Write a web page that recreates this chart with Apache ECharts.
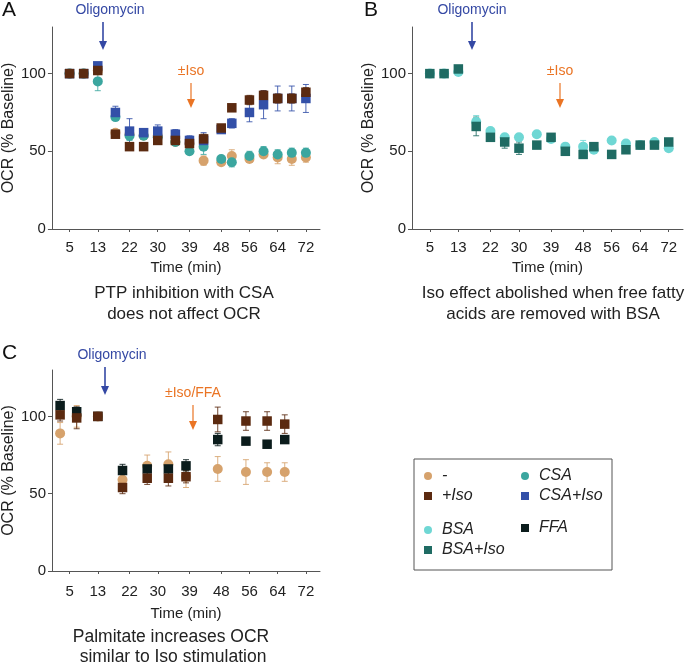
<!DOCTYPE html>
<html>
<head>
<meta charset="utf-8">
<script src="https://cdn.jsdelivr.net/npm/echarts@6/dist/echarts.min.js"></script>
<style>
html,body{margin:0;padding:0;background:#fff;}
#c{width:685px;height:663px;}
</style>
</head>
<body>
<div id="c"></div>
<script>
// ---- data ----
const timeTicks = [5, 13, 22, 30, 39, 48, 56, 64, 72];
const yTicks = [0, 50, 100];

const tAB = [5, 9, 13, 18, 22, 26, 30, 35, 39, 43, 48, 51, 56, 60, 64, 68, 72];
const A_ctrl     = [100,100,102,62,61,60,60,56,55,44,43,47,45,48,46,45,46];
const A_ctrl_e   = [1,1,1,2,2,2,2,2,2,3,2,4,2,2,4,4,3];
const A_iso      = [100,100,102,61,53,53,57,57,55,58,65,78,83,86,84,84,88];
const A_iso_e    = [1,1,2,2,1,1,1,2,2,3,2,2,3,3,3,3,3];
const A_csa      = [100,100,95,72,60,60,59,56,50,53,45,43,47,50,48,49,49];
const A_csa_e    = [1,1,6,2,3,2,2,2,1,5,2,3,3,3,3,3,3];
const A_csaiso   = [100,100,105,75,63,62,63,61,57,57,64,68,75,80,84,84,84];
const A_csaiso_e = [1,1,2,4,8,2,4,3,3,5,2,3,6,9,8,8,9];

const B_bsa      = [100,100,101,69,63,59,59,61,58,53,53,51,57,55,54,56,52];
const B_bsa_e    = [1,1,1,4,1,2,1,1,1,2,4,1,1,1,1,1,1];
const B_bsaiso   = [100,100,103,66,59,56,52,54,59,50,48,53,48,51,54,54,56];
const B_bsaiso_e = [1,1,1,6,1,4,4,1,1,1,1,1,2,1,1,1,1];

const tC = [2.3, 7, 13, 20, 27, 33, 38, 47, 55, 61, 66];
const C_ctrl   = [89,100,100,59,68,69,61,66,64,64,64];
const C_ctrl_e = [7,7,1,4,7,8,7,8,8,6,6];
const C_iso    = [101,99,100,54,60,60,61,98,97,97,95];
const C_iso_e  = [4,7,1,4,4,5,4,8,6,6,6];
const C_ffa    = [107,103,100,65,66,66,68,85,84,82,85];
const C_ffa_e  = [4,3,1,4,1,1,4,4,2,1,1];

// ---- styles ----
const COL = {
  ctrl: '#d6a26c', iso: '#5b2a10', csa: '#3ba69f', csaiso: '#3350a8',
  bsa: '#6fd7d4', bsaiso: '#1f6b63', ffa: '#0b1c1c'
};
const FONT = 'Liberation Sans, Arial, Helvetica, sans-serif';
const TXT = '#222';
const AX = '#555';

function pts(t, v) { return t.map((x, i) => [x, v[i]]); }
function errs(t, v, e) { return t.map((x, i) => [x, v[i] - e[i], v[i] + e[i]]); }

function errSeries(idx, t, v, e, color) {
  return {
    type: 'custom', xAxisIndex: idx, yAxisIndex: idx, silent: true, z: 1,
    data: errs(t, v, e),
    renderItem: function (params, api) {
      const x = api.value(0);
      const p1 = api.coord([x, api.value(2)]);
      const p2 = api.coord([x, api.value(1)]);
      const st = { stroke: color, lineWidth: 1, opacity: 0.85 };
      return {
        type: 'group', children: [
          { type: 'line', shape: { x1: p1[0], y1: p1[1], x2: p2[0], y2: p2[1] }, style: st },
          { type: 'line', shape: { x1: p1[0] - 3, y1: p1[1], x2: p1[0] + 3, y2: p1[1] }, style: st },
          { type: 'line', shape: { x1: p2[0] - 3, y1: p2[1], x2: p2[0] + 3, y2: p2[1] }, style: st }
        ]
      };
    }
  };
}
function scat(idx, name, t, v, color, symbol, z) {
  return {
    type: 'scatter', name: name, xAxisIndex: idx, yAxisIndex: idx,
    data: pts(t, v), symbol: symbol, symbolSize: symbol === 'circle' ? 10 : 9.5,
    itemStyle: { color: color, opacity: 1 }, z: z
  };
}

function xAx(idx, margin, gap) {
  return {
    gridIndex: idx, type: 'value', min: 0, max: 76,
    axisLine: { show: true, lineStyle: { color: AX, width: 1 } },
    axisTick: { show: true, length: 3, customValues: timeTicks, lineStyle: { color: AX } },
    axisLabel: { customValues: timeTicks, fontSize: 15, color: TXT, fontFamily: FONT, margin: margin },
    splitLine: { show: false },
    name: 'Time (min)', nameLocation: 'middle', nameGap: gap,
    nameTextStyle: { fontSize: 15, color: TXT, fontFamily: FONT }
  };
}
function yAx(idx) {
  return {
    gridIndex: idx, type: 'value', min: 0, max: 130,
    axisLine: { show: true, lineStyle: { color: AX, width: 1 } },
    axisTick: { show: true, length: 4, customValues: yTicks, lineStyle: { color: AX } },
    axisLabel: { customValues: yTicks, fontSize: 15, color: TXT, fontFamily: FONT, margin: 6 },
    splitLine: { show: false },
    name: 'OCR (% Baseline)', nameLocation: 'middle', nameGap: 32,
    nameTextStyle: { fontSize: 16, color: TXT, fontFamily: FONT }
  };
}

const series = [
  // Panel A
  errSeries(0, tAB, A_ctrl, A_ctrl_e, COL.ctrl),
  errSeries(0, tAB, A_csa, A_csa_e, COL.csa),
  errSeries(0, tAB, A_csaiso, A_csaiso_e, COL.csaiso),
  errSeries(0, tAB, A_iso, A_iso_e, COL.iso),
  scat(0, '-', tAB, A_ctrl, COL.ctrl, 'circle', 2),
  scat(0, 'CSA', tAB, A_csa, COL.csa, 'circle', 3),
  scat(0, 'CSA+Iso', tAB, A_csaiso, COL.csaiso, 'rect', 4),
  scat(0, '+Iso', tAB, A_iso, COL.iso, 'rect', 5),
  // Panel B
  errSeries(1, tAB, B_bsa, B_bsa_e, COL.bsa),
  errSeries(1, tAB, B_bsaiso, B_bsaiso_e, COL.bsaiso),
  scat(1, 'BSA', tAB, B_bsa, COL.bsa, 'circle', 2),
  scat(1, 'BSA+Iso', tAB, B_bsaiso, COL.bsaiso, 'rect', 3),
  // Panel C
  errSeries(2, tC, C_ctrl, C_ctrl_e, COL.ctrl),
  errSeries(2, tC, C_iso, C_iso_e, COL.iso),
  errSeries(2, tC, C_ffa, C_ffa_e, COL.ffa),
  scat(2, '-', tC, C_ctrl, COL.ctrl, 'circle', 2),
  scat(2, 'FFA', tC, C_ffa, COL.ffa, 'rect', 3),
  scat(2, '+Iso', tC, C_iso, COL.iso, 'rect', 4)
];

function legendAt(data, left, top) {
  return {
    data: data, left: left, top: top, orient: 'vertical',
    itemWidth: 8, itemHeight: 8, itemGap: 4, padding: 0,
    selectedMode: false,
    textStyle: { fontSize: 16, fontStyle: 'italic', color: TXT, fontFamily: FONT, padding: [0, 0, 0, 5] }
  };
}

function arrow(x, y1, y2, color, w) {
  return [
    { type: 'line', shape: { x1: x, y1: y1, x2: x, y2: y2 - 6 }, style: { stroke: color, lineWidth: w } },
    { type: 'polygon', shape: { points: [[x - 4, y2 - 9], [x + 4, y2 - 9], [x, y2]] }, style: { fill: color } }
  ];
}
function txt(x, y, s, size, color, align, extra) {
  return Object.assign({
    type: 'text', x: x, y: y,
    style: { text: s, fontSize: size, fill: color, fontFamily: FONT, align: align || 'center', verticalAlign: 'middle' }
  }, extra || {});
}
const BLUE = '#3448a4';
const ORANGE = '#ea7424';

const graphics = [].concat(
  [txt(2, 10, 'A', 21, '#111', 'left'), txt(364, 10, 'B', 21, '#111', 'left'), txt(2, 353, 'C', 21, '#111', 'left')],
  [txt(110, 10, 'Oligomycin', 14, BLUE), txt(472, 10, 'Oligomycin', 14, BLUE), txt(112, 355, 'Oligomycin', 14, BLUE)],
  arrow(103, 22, 50, BLUE, 1.6), arrow(472, 22, 50, BLUE, 1.6), arrow(105, 367, 395, BLUE, 1.6),
  [txt(191, 71, '±Iso', 14, ORANGE), txt(560, 71, '±Iso', 14, ORANGE), txt(193, 393, '±Iso/FFA', 14, ORANGE)],
  arrow(191, 83, 108, ORANGE, 1.2), arrow(560, 83, 108, ORANGE, 1.2), arrow(193, 405, 430, ORANGE, 1.2),
  [
    txt(184, 293, 'PTP inhibition with CSA', 17, TXT), txt(184, 314, 'does not affect OCR', 17, TXT),
    txt(553, 293, 'Iso effect abolished when free fatty', 17, TXT), txt(553, 314, 'acids are removed with BSA', 17, TXT),
    txt(171, 637, 'Palmitate increases OCR', 17.5, TXT), txt(173, 657, 'similar to Iso stimulation', 17.5, TXT)
  ],
  [{ type: 'rect', shape: { x: 414, y: 459, width: 198, height: 111 }, style: { fill: 'none', stroke: '#555', lineWidth: 1 }, z: 0 }]
);

const chart = echarts.init(document.getElementById('c'), null, { renderer: 'canvas' });
chart.setOption({
  backgroundColor: '#fff',
  animation: false,
  textStyle: { fontFamily: FONT },
  grid: [
    { left: 49, top: 27, width: 271, height: 202 },
    { left: 412, top: 27, width: 271, height: 202 },
    { left: 52, top: 370, width: 268, height: 201 }
  ],
  xAxis: [xAx(0, 11, 31), xAx(1, 11, 31), xAx(2, 13, 35)],
  yAxis: [yAx(0), yAx(1), yAx(2)],
  legend: [
    legendAt(['-', '+Iso'], 424, 468),
    legendAt(['CSA', 'CSA+Iso'], 521, 468),
    legendAt(['BSA', 'BSA+Iso'], 424, 522),
    legendAt(['FFA'], 521, 520)
  ],
  series: series,
  graphic: graphics
});
</script>
</body>
</html>
